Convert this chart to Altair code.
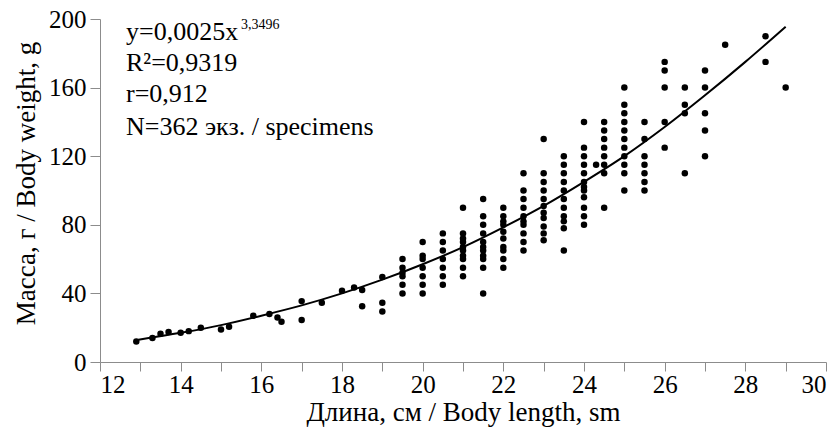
import altair as alt
import pandas as pd

# Scatter points: body length (cm) and body weight (g)
length_cm = [
    12.9, 13.3, 13.5, 13.7, 14.0, 14.2, 14.5, 15.0, 15.2, 15.8, 16.2, 16.4, 16.5,
    17.0, 17.0, 17.5, 18.0, 18.3, 18.5, 18.5, 19.0, 19.0, 19.0,
    19.5, 19.5, 19.5, 19.5, 19.5, 19.5,
    20.0, 20.0, 20.0, 20.0, 20.0, 20.0, 20.0,
    20.5, 20.5, 20.5, 20.5, 20.5, 20.5, 20.5,
    21.0, 21.0, 21.0, 21.0, 21.0, 21.0, 21.0, 21.0, 21.0, 21.0,
    21.5, 21.5, 21.5, 21.5, 21.5, 21.5, 21.5, 21.5, 21.5, 21.5, 21.5,
    22.0, 22.0, 22.0, 22.0, 22.0, 22.0, 22.0, 22.0, 22.0, 22.0,
    22.5, 22.5, 22.5, 22.5, 22.5, 22.5, 22.5, 22.5, 22.5, 22.5,
    23.0, 23.0, 23.0, 23.0, 23.0, 23.0, 23.0, 23.0, 23.0, 23.0, 23.0,
    23.5, 23.5, 23.5, 23.5, 23.5, 23.5, 23.5, 23.5, 23.5, 23.5, 23.5,
    24.0, 24.0, 24.0, 24.0, 24.0, 24.0, 24.0, 24.0, 24.0, 24.0, 24.0, 24.0,
    24.3,
    24.5, 24.5, 24.5, 24.5, 24.5, 24.5, 24.5, 24.5,
    25.0, 25.0, 25.0, 25.0, 25.0, 25.0, 25.0, 25.0, 25.0, 25.0, 25.0,
    25.5, 25.5, 25.5, 25.5, 25.5, 25.5, 25.5,
    26.0, 26.0, 26.0, 26.0, 26.0,
    26.5, 26.5, 26.5, 26.5,
    27.0, 27.0, 27.0, 27.0, 27.0,
    27.5, 28.5, 28.5, 29.0,
]
weight_g = [
    12, 14, 16.5, 17.5, 17, 18, 20, 19, 20.5, 27, 28, 26, 23.5,
    35.5, 24.5, 34.5, 41.5, 43.5, 42, 32.5, 49.5, 34.5, 29.5,
    60, 55, 52, 50, 45, 40,
    70, 62, 60, 55, 50, 45, 40,
    75, 70, 65, 60, 55, 50, 45,
    90, 75, 72, 70, 67, 65, 62, 60, 55, 50,
    95, 85, 80, 75, 70, 67, 65, 62, 60, 55, 40,
    90, 85, 82, 80, 76, 72, 67, 65, 60, 55,
    110, 100, 95, 90, 85, 82, 80, 75, 70, 65,
    130, 110, 105, 100, 95, 91, 87, 84, 79, 75, 71,
    120, 115, 110, 105, 100, 95, 90, 85, 82, 78, 65,
    140, 125, 120, 115, 110, 105, 102, 100, 96, 90, 85, 80,
    115,
    140, 135, 130, 125, 120, 115, 110, 90,
    160, 150, 145, 140, 135, 130, 125, 120, 115, 110, 100,
    140, 130, 120, 115, 110, 105, 100,
    175, 170, 160, 140, 125,
    160, 150, 145, 110,
    170, 160, 145, 135, 120,
    185, 190, 175, 160,
]

# Trend curve
curve_x = [12.95, 14, 15, 16, 17, 18, 19, 20, 21, 22, 23, 24, 25, 26, 27, 28, 29]
curve_y = [13, 17, 21.5, 27, 33, 40, 48, 57, 67, 78.5, 91, 105, 120, 137, 155.5, 175, 195.5]

x_ticks = list(range(12, 31))
y_ticks = list(range(0, 201, 20))

annotation_lines = ["y=0,0025x", "R\u00b2=0,9319", "r=0,912", "N=362 экз. / specimens"]
exponent_text = "3,3496"

FONT = "'Liberation Serif', 'Times New Roman', Times, serif"

pts = pd.DataFrame({"x": length_cm, "y": weight_g})
crv = pd.DataFrame({"x": curve_x, "y": curve_y})

xscale = alt.Scale(domain=[12, 30], nice=False, zero=False)
yscale = alt.Scale(domain=[0, 200], nice=False)

xaxis = alt.Axis(
    values=x_ticks,
    labelExpr="datum.value % 2 == 0 ? datum.label : ''",
    title="Длина, см / Body length, sm",
    grid=False, tickSize=9, labelPadding=1, titlePadding=2,
    domainColor="#8c8c8c", tickColor="#8c8c8c",
)
yaxis = alt.Axis(
    values=y_ticks,
    labelExpr="datum.value % 40 == 0 ? datum.label : ''",
    title="Масса, г / Body weight, g",
    grid=False, tickSize=10, labelPadding=4, titlePadding=8, titleY=164,
    domainColor="#8c8c8c", tickColor="#8c8c8c",
)

scatter = alt.Chart(pts).mark_circle(size=42, color="black", opacity=1).encode(
    x=alt.X("x:Q", scale=xscale, axis=xaxis),
    y=alt.Y("y:Q", scale=yscale, axis=yaxis),
)

line = alt.Chart(crv).mark_line(color="black", strokeWidth=2, interpolate="monotone").encode(
    x=alt.X("x:Q", scale=xscale),
    y=alt.Y("y:Q", scale=yscale),
)

baselines = [21, 52, 83, 116]
texts = []
for t, b in zip(annotation_lines, baselines):
    texts.append(
        alt.Chart(pd.DataFrame({"t": [t]})).mark_text(
            font=FONT, fontSize=26, align="left", baseline="alphabetic", color="black"
        ).encode(x=alt.value(26), y=alt.value(b), text="t:N")
    )

exp_mark = alt.Chart(pd.DataFrame({"t": [exponent_text]})).mark_text(
    font=FONT, fontSize=14, align="left", baseline="alphabetic", color="black"
).encode(x=alt.value(141), y=alt.value(10), text="t:N")

chart = alt.layer(scatter, line, *texts, exp_mark).properties(
    width=726,
    height=343,
    padding={"left": 100, "top": 19, "right": 12, "bottom": 70},
    autosize=alt.AutoSizeParams(type="none"),
).configure_view(stroke=None).configure_axis(
    labelFont=FONT, labelFontSize=25, labelColor="black",
    titleFont=FONT, titleFontSize=27, titleFontWeight="normal", titleColor="black",
)

chart.save("out.html", embed_options={"renderer": "svg", "actions": False})
